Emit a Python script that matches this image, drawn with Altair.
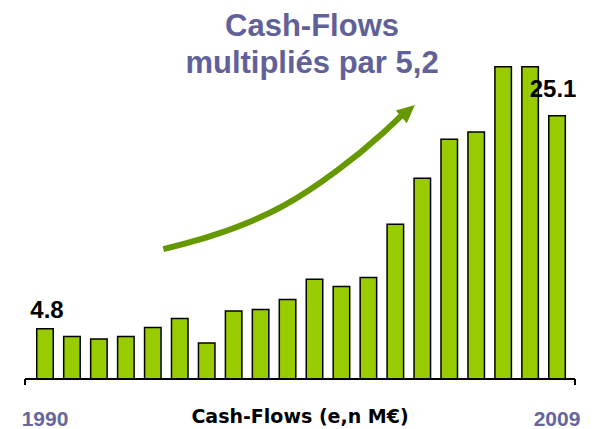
import altair as alt
import pandas as pd

years = list(range(1990, 2010))
cash_flows = [4.8, 4.06, 3.81, 4.06, 4.91, 5.77, 3.43, 6.48, 6.63, 7.57,
              9.52, 8.82, 9.68, 14.76, 19.14, 22.86, 23.55, 29.77, 29.77, 25.1]

# arrow annotation path (data coordinates: year, value)
arrow_x = [1994.39, 1996.37, 1998.84, 2000.82, 2002.55, 2003.36]
arrow_y = [12.38, 13.81, 16.50, 19.84, 23.49, 25.46]
arrow_head_x = [2003.41]
arrow_head_y = [25.42]

label_first = "4.8"
label_last = "25.1"
title_text = "Cash-Flows\nmultipliés par 5,2"
caption_text = "Cash-Flows (e,n M€)"
year_labels = ["1990", "2009"]
year_label_x = [1990, 2009]

X_DOMAIN = [1989.258, 2009.666]
Y_DOMAIN = [0, 35]
W, H = 550, 367

df = pd.DataFrame({"year": years, "value": cash_flows})
arrow_df = pd.DataFrame({"x": arrow_x, "y": arrow_y, "o": list(range(len(arrow_x)))})
head_df = pd.DataFrame({"x": arrow_head_x, "y": arrow_head_y})
yl_df = pd.DataFrame({"x": year_label_x, "t": year_labels})
first_df = pd.DataFrame({"year": [years[0]], "value": [cash_flows[0]], "t": [label_first]})
last_df = pd.DataFrame({"year": [years[-1]], "value": [cash_flows[-1]], "t": [label_last]})
tick_df = pd.DataFrame({"x": X_DOMAIN})

xs = alt.Scale(domain=X_DOMAIN, nice=False, zero=False, padding=0)
ys = alt.Scale(domain=Y_DOMAIN, nice=False)


def X(field):
    return alt.X(field, scale=xs, axis=None)


def Y(field):
    return alt.Y(field, scale=ys, axis=None)


bars = alt.Chart(df).mark_bar(width=16.5, color="#99CC00", stroke="black",
                              strokeWidth=1.5).encode(
    x=X("year:Q"),
    y=Y("value:Q"),
)

baseline = alt.Chart(df).mark_rule(color="black", strokeWidth=2).encode(
    x=alt.value(0), x2=alt.value(W), y=alt.value(H))

ticks = alt.Chart(tick_df).mark_rule(color="black", strokeWidth=2).encode(
    x=X("x:Q"), y=alt.value(H), y2=alt.value(H + 6))

arrow_line = alt.Chart(arrow_df).mark_line(color="#669900", strokeWidth=6,
                                           interpolate="monotone").encode(
    x=X("x:Q"), y=Y("y:Q"), order="o:Q")

arrow_head = alt.Chart(head_df).mark_point(
    shape="M0,-1L0.75,0.6L-0.75,0.6Z", size=506, angle=49, filled=True,
    color="#669900", opacity=1).encode(x=X("x:Q"), y=Y("y:Q"))

lab_first = alt.Chart(first_df).mark_text(
    font="Liberation Sans", fontWeight="bold", fontSize=24, color="black",
    baseline="alphabetic", dy=-11, dx=2).encode(
    x=X("year:Q"), y=Y("value:Q"), text="t:N")

lab_last = alt.Chart(last_df).mark_text(
    font="Liberation Sans", fontWeight="bold", fontSize=24, color="black",
    baseline="alphabetic", dy=-18.5, dx=-4).encode(
    x=X("year:Q"), y=Y("value:Q"), text="t:N")

title = alt.Chart(pd.DataFrame({"t": [title_text]})).mark_text(
    font="Liberation Sans", fontWeight="bold", fontSize=31, color="#616199",
    baseline="alphabetic", align="center", lineBreak="\n", lineHeight=37).encode(
    x=alt.value(287), y=alt.value(24), text="t:N")

year_labs = alt.Chart(yl_df).mark_text(
    font="Liberation Sans", fontWeight="bold", fontSize=21, color="#66669E",
    baseline="alphabetic", align="center").encode(
    x=X("x:Q"), y=alt.value(414), text="t:N")

caption = alt.Chart(pd.DataFrame({"t": [caption_text]})).mark_text(
    font="DejaVu Sans", fontWeight="bold", fontSize=19, color="black",
    baseline="alphabetic", align="center").encode(
    x=alt.value(275), y=alt.value(411), text="t:N")

chart = alt.layer(bars, baseline, ticks, arrow_line, arrow_head, lab_first,
                  lab_last, title, year_labs, caption).properties(
    width=W, height=H, background="white",
    padding={"left": 13, "top": 3, "right": 0, "bottom": 0},
).configure_view(strokeWidth=0, stroke="transparent")

chart.save("out.html", embed_options={"renderer": "svg", "actions": False})
